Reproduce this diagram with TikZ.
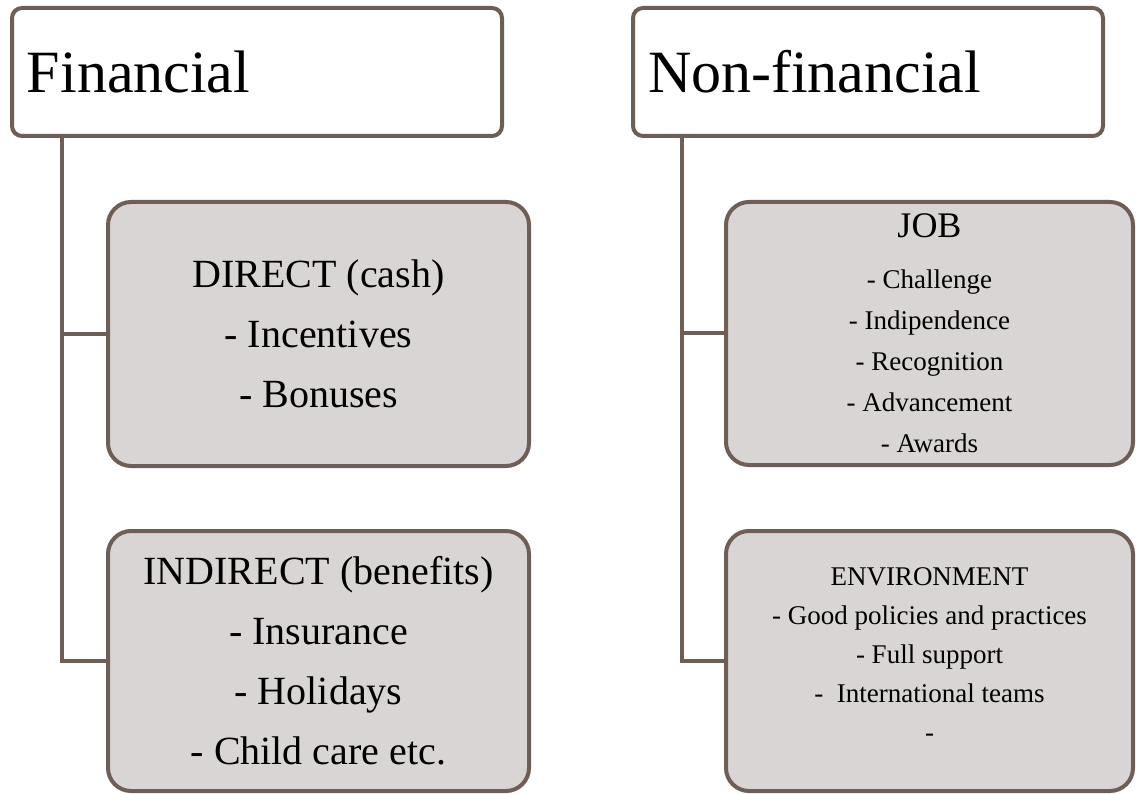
\documentclass[tikz,border=0pt]{standalone}
\usepackage{fontspec}
\setmainfont{Liberation Serif}
\definecolor{brd}{RGB}{110,94,85}
\definecolor{subfill}{RGB}{217,213,212}
\begin{document}
\begin{tikzpicture}[x=1pt,y=-1pt,
  head/.style={draw=brd, line width=4pt, rounded corners=10pt, fill=white,
    inner sep=0pt, outer sep=0pt, minimum height=128pt, align=left,
    font=\fontsize{60}{66}\selectfont},
  sub/.style={draw=brd, line width=4pt, rounded corners=23pt, fill=subfill,
    inner sep=0pt, outer sep=0pt, align=center},
  conn/.style={draw=brd, line width=4pt}]
\useasboundingbox (0,0) rectangle (1136,794);
% header boxes
\node[head, minimum width=490pt, text width=460pt] (fin) at (257,72) {Financial};
\node[head, minimum width=470pt, text width=440pt] (nonfin) at (868,72) {Non-financial};
% sub boxes
\node[sub, minimum width=421pt, minimum height=264pt,
  font=\fontsize{40}{60}\selectfont] (direct) at (318.5,334)
  {DIRECT (cash)\\- Incentives\\- Bonuses};
\node[sub, minimum width=421pt, minimum height=260pt,
  font=\fontsize{40}{60}\selectfont] (indirect) at (318.5,661)
  {INDIRECT (benefits)\\- Insurance\\- Holidays\\- Child care etc.};
\node[sub, minimum width=407pt, minimum height=263pt,
  font=\fontsize{27}{41}\selectfont] (job) at (929.5,333.5)
  {{\fontsize{36}{41}\selectfont JOB}\\[10pt]- Challenge\\- Indipendence\\- Recognition\\- Advancement\\- Awards};
\node[sub, minimum width=407pt, minimum height=260pt, text depth=12pt,
  font=\fontsize{27}{39}\selectfont] (env) at (929.5,661)
  {ENVIRONMENT\\- Good policies and practices\\- Full support\\-\ \ International teams\\-};
% connectors
\draw[conn] ([xshift=50pt]fin.south west) |- (direct.west);
\draw[conn] ([xshift=50pt]fin.south west) |- (indirect.west);
\draw[conn] ([xshift=49pt]nonfin.south west) |- (job.west);
\draw[conn] ([xshift=49pt]nonfin.south west) |- (env.west);
\end{tikzpicture}
\end{document}
